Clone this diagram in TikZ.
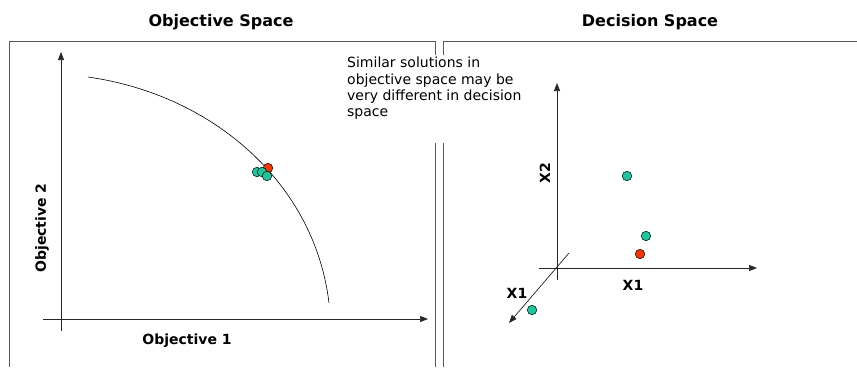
\documentclass[tikz,border=0pt]{standalone}
\usepackage{fontspec}
\setmainfont{DejaVu Sans}
\usetikzlibrary{arrows.meta,positioning}
\definecolor{solgreen}{RGB}{26,200,160}
\definecolor{solred}{RGB}{255,51,0}

\begin{document}
\begin{tikzpicture}[x=1pt, y=-1pt, >={Triangle[length=8pt,width=6pt]},
    frame/.style={draw=black!65, line width=0.8pt},
    axis/.style={->, draw=black!85, line width=0.7pt},
    title/.style={font=\bfseries\fontsize{16}{18}\selectfont},
    lbl/.style={font=\bfseries\fontsize{14}{16}\selectfont},
    note/.style={font=\fontsize{14}{16.3}\selectfont, align=left, inner sep=0pt},
    sol/.style={circle, draw=black, line width=0.5pt, inner sep=0pt, minimum size=9.5pt},
    good/.style={sol, fill=solgreen},
    bad/.style={sol, fill=solred}]
    \useasboundingbox (0,0) rectangle (857,367);

    % frames round the two spaces
    \draw[frame] (9,367) -- (9,41) -- (435,41) -- (435,55);
    \draw[frame] (435,143) -- (435,367);
    \draw[frame] (443,55) -- (443,41) -- (857,41);
    \draw[frame] (443,143) -- (443,367);

    \node[title] (otitle) at (221,22) {Objective Space};
    \node[title] (dtitle) at (650,22) {Decision Space};

    \node[note, anchor=north west] (note) at (347,57)
        {Similar solutions in\\objective space may be\\very different in decision\\space};

    % objective space
    \coordinate (o1a) at (43,319);
    \coordinate (o1b) at (428,319);
    \coordinate (o2a) at (61,331);
    \coordinate (o2b) at (61,52);
    \draw[axis] (o1a) -- (o1b);
    \draw[axis] (o2a) -- (o2b);
    \node[lbl] (obj1) at (187,341) {Objective 1};
    \node[lbl, rotate=90] (obj2) at (42,228) {Objective 2};

    \coordinate (fa) at (88,77);
    \coordinate (fb) at (329,303);
    \draw[line width=0.6pt] (fa) .. controls (215,95) and (315,185) .. (fb);

    \node[bad] (r1) at (268,168) {};
    \node[good] (g1) at (257,172) {};
    \node[good] (g2) at (262,172) {};
    \node[good] (g3) at (267,176) {};

    % decision space
    \coordinate (x1a) at (539,268);
    \coordinate (x1b) at (757,268);
    \coordinate (x2a) at (557,280);
    \coordinate (x2b) at (557,83);
    \coordinate (x3a) at (569,253);
    \coordinate (x3b) at (509,323);
    \draw[axis] (x1a) -- (x1b);
    \draw[axis] (x2a) -- (x2b);
    \draw[axis] (x3a) -- (x3b);
    \node[lbl] (x1lbl) at (633,285) {X1};
    \node[lbl, rotate=90] (x2lbl) at (545,173) {X2};
    \node[lbl] (x3lbl) at (517,293) {X1};

    \node[good] (d1) at (627,176) {};
    \node[good] (d2) at (646,236) {};
    \node[bad] (d3) at (640,254) {};
    \node[good] (d4) at (532,310) {};
\end{tikzpicture}
\end{document}
